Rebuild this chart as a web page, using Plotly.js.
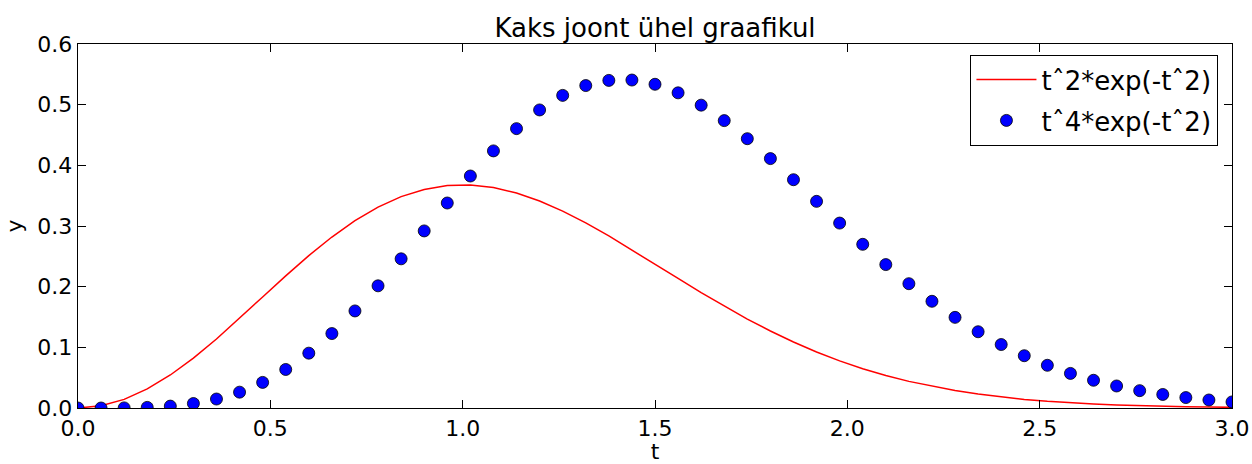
<!DOCTYPE html>
<html>
<head>
<meta charset="utf-8">
<script src="https://cdn.plot.ly/plotly-3.0.1.min.js"></script>
<style>html,body{margin:0;padding:0;background:#fff;}#chart{width:1252px;height:464px;}</style>
</head>
<body>
<div id="chart"></div>
<script>
const t = [0.00,0.06,0.12,0.18,0.24,0.30,0.36,0.42,0.48,0.54,0.60,0.66,0.72,0.78,0.84,0.90,0.96,1.02,1.08,1.14,1.20,1.26,1.32,1.38,1.44,1.50,1.56,1.62,1.68,1.74,1.80,1.86,1.92,1.98,2.04,2.10,2.16,2.22,2.28,2.34,2.40,2.46,2.52,2.58,2.64,2.70,2.76,2.82,2.88,2.94,3.00];
const y1 = [0.0000,0.0036,0.0142,0.0314,0.0544,0.0823,0.1138,0.1479,0.1830,0.2178,0.2512,0.2818,0.3087,0.3311,0.3484,0.3603,0.3667,0.3676,0.3633,0.3543,0.3412,0.3246,0.3051,0.2836,0.2607,0.2371,0.2135,0.1902,0.1678,0.1466,0.1269,0.1088,0.0924,0.0777,0.0648,0.0536,0.0439,0.0357,0.0287,0.0230,0.0182,0.0142,0.0111,0.0086,0.0066,0.0050,0.0037,0.0028,0.0021,0.0015,0.0011];
const y2 = [0.0000,0.0000,0.0002,0.0010,0.0031,0.0074,0.0148,0.0261,0.0422,0.0635,0.0904,0.1227,0.1600,0.2014,0.2459,0.2919,0.3379,0.3824,0.4238,0.4605,0.4913,0.5153,0.5315,0.5400,0.5406,0.5336,0.5195,0.4992,0.4737,0.4439,0.4111,0.3763,0.3406,0.3048,0.2698,0.2364,0.2049,0.1759,0.1494,0.1257,0.1046,0.0862,0.0704,0.0570,0.0457,0.0363,0.0286,0.0223,0.0172,0.0132,0.0100];
const names = ['tˆ2*exp(-tˆ2)', 'tˆ4*exp(-tˆ2)'];
const titleText = 'Kaks joont ühel graafikul';
const xTicks = [0.0,0.5,1.0,1.5,2.0,2.5,3.0];
const yTicks = [0.0,0.1,0.2,0.3,0.4,0.5,0.6];

const F = 'DejaVu Sans, sans-serif';
const traces = [
  {x: t, y: y1, mode: 'lines', name: names[0], legendgroup: 'a', line: {color: '#ff0000', width: 1.5}, cliponaxis: true},
  {x: t, y: y2, mode: 'markers', name: names[1], legendgroup: 'b', marker: {color: '#0000ff', size: 12, line: {color: '#000', width: 0.8}}, cliponaxis: true}
];
const axisCommon = {
  showgrid: false, zeroline: false, showline: true, linecolor: '#000', linewidth: 1.3,
  mirror: 'ticks', ticks: 'inside', ticklen: 8, tickwidth: 1, tickcolor: '#000',
  tickformat: '.1f', tickfont: {family: F, size: 22, color: '#000'}
};
const layout = {
  width: 1252, height: 464,
  margin: {l: 78, r: 20, t: 44, b: 56},
  paper_bgcolor: '#fff', plot_bgcolor: '#fff',
  font: {family: F, color: '#000'},
  title: {text: titleText, font: {family: F, size: 26, color: '#000'}, x: 0.5, xanchor: 'center', y: 0.94, yanchor: 'middle', xref: 'paper'},
  xaxis: Object.assign({}, axisCommon, {range: [0, 3], tickvals: xTicks, title: {text: 't', font: {family: F, size: 22}, standoff: 9}}),
  yaxis: Object.assign({}, axisCommon, {range: [0, 0.6], tickvals: yTicks, title: {text: 'y', font: {family: F, size: 22}, standoff: 8}}),
  showlegend: true,
  legend: {x: 0.988, y: 0.97, xanchor: 'right', yanchor: 'top', bgcolor: '#fff', bordercolor: '#000', borderwidth: 1.3,
           font: {family: F, size: 26, color: '#000'}, traceorder: 'grouped', tracegroupgap: 4, itemwidth: 60}
};
Plotly.newPlot('chart', traces, layout, {displayModeBar: false, staticPlot: true});
</script>
</body>
</html>
